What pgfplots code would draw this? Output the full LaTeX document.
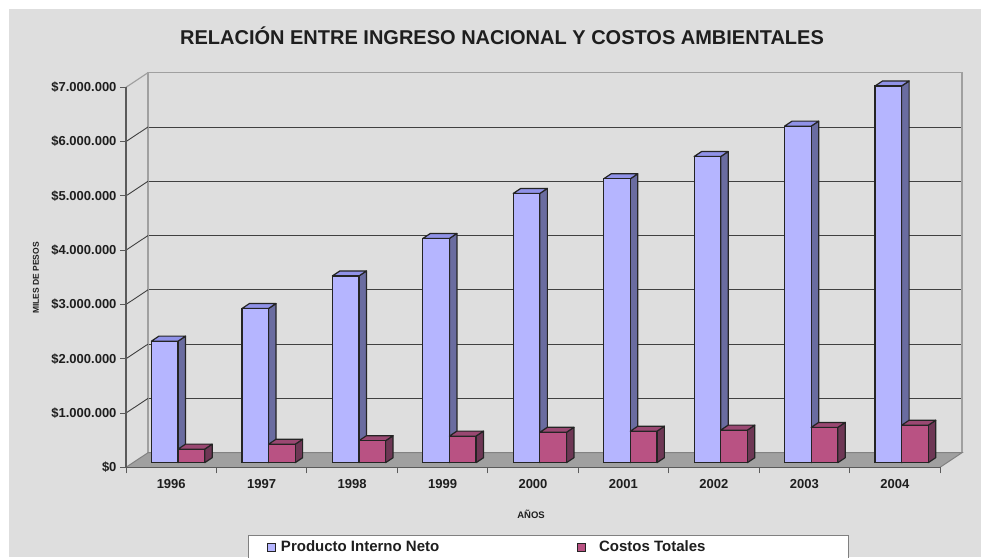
\documentclass[border=0pt]{standalone}
\usepackage{pgfplots}
\usepackage{pgfplotstable}
\pgfplotsset{compat=1.18}
\usepackage{fontspec}
\setmainfont{Liberation Sans}
\definecolor{bg}{RGB}{222,222,222}
\definecolor{floorc}{RGB}{160,160,160}
\definecolor{wallc}{RGB}{160,160,160}
\definecolor{flooredge}{RGB}{130,130,130}
\definecolor{gridc}{RGB}{64,64,64}
\definecolor{axisc}{RGB}{90,90,90}
\definecolor{txt}{RGB}{30,30,30}
\definecolor{bfront}{RGB}{181,181,255}
\definecolor{bside}{RGB}{106,108,160}
\definecolor{btop}{RGB}{144,146,232}
\definecolor{pfront}{RGB}{185,82,131}
\definecolor{pside}{RGB}{110,55,85}
\definecolor{ptop}{RGB}{154,72,114}
\definecolor{edge}{RGB}{36,36,36}
\pgfplotsset{
  common/.style={scale only axis, width=814pt, height=380pt,
    xmin=-0.5, xmax=8.5, ymin=0, ymax=7, anchor=south west, clip=false},
}
% values in millions of (miles de) pesos
\pgfplotstableread{
x pin ct
0 2.24 0.25
1 2.84 0.34
2 3.44 0.405
3 4.13 0.49
4 4.96 0.56
5 5.23 0.58
6 5.64 0.60
7 6.20 0.65
8 6.94 0.69
}\datatable
\def\dxu{0.0829}
\def\dyu{0.0921}
\def\bw{0.2941}
\begin{document}
\begin{tikzpicture}[x=1pt,y=1pt]
\fill[white] (0,0) rectangle (981,557);
\fill[bg] (9,0) rectangle (981,548);
% back wall
\begin{axis}[common, at={(148pt,104.3pt)},
  axis background/.style={fill=bg},
  axis line style={draw=wallc, line width=1.2pt},
  xtick=\empty, ytick={1,2,3,4,5,6}, yticklabels={},
  major tick length=0pt, ymajorgrids,
  major grid style={draw=gridc, line width=0.9pt}]
\end{axis}
% side wall lines
\foreach \k in {1,...,6}{
  \draw[gridc, line width=0.9pt] (126, {89.7+\k*54.2857}) -- ++(22,14.6);
}
\draw[wallc, line width=1.2pt] (126, 469.7) -- ++(22,14.6);
% floor
\fill[floorc] (126,89.7) -- (940,89.7) -- (962,104.3) -- (148,104.3) -- cycle;
\draw[flooredge, line width=1pt] (126,89.7) -- (148,104.3) -- (962,104.3) -- (940,89.7);
% front axis
\begin{axis}[common, at={(126pt,89.7pt)},
  axis x line*=bottom, axis y line*=left,
  axis line style={draw=axisc, line width=1.2pt},
  xtick={-0.5,0.5,...,8.5}, x tick label as interval,
  xticklabels={1996,1997,1998,1999,2000,2001,2002,2003,2004},
  ytick={0,1,2,3,4,5,6,7},
  yticklabels={\$0,\$1.000.000,\$2.000.000,\$3.000.000,\$4.000.000,\$5.000.000,\$6.000.000,\$7.000.000},
  tick align=outside, major tick length=6pt,
  tick style={draw=axisc, line width=1pt},
  ticklabel style={font=\bfseries\fontsize{13}{15}\selectfont, text=txt},
  xticklabel style={yshift=-3pt},
]
\end{axis}
% legend box
\fill[white] (248,22) rectangle (848,-20);
\draw[gray, line width=1pt] (248,-20) -- (248,22) -- (848,22) -- (848,-20);
% bars
\begin{axis}[common, at={(132.85pt,94.3pt)}, hide axis,
  legend style={at={(0.1648,-0.2218)}, anchor=west, draw=none, fill=none, inner sep=0pt,
     nodes={inner sep=0pt, font=\bfseries\fontsize{15}{18}\selectfont, text=txt},
     legend columns=2,
     /tikz/every odd column/.append style={column sep=5pt},
     /tikz/every even column/.append style={column sep=138pt}},
]
\pgfplotsforeachungrouped \r in {0,...,8}{
  \pgfplotstablegetelem{\r}{pin}\of{\datatable}\let\v\pgfplotsretval
  \pgfmathsetmacro\xr{\r}
  \pgfmathsetmacro\xl{\r-\bw}
  \pgfmathsetmacro\xrb{\r+\dxu}
  \pgfmathsetmacro\xlb{\r-\bw+\dxu}
  \pgfmathsetmacro\vb{\v+\dyu}
  \addplot[forget plot, fill=bside, draw=edge, line width=1.2pt, line join=round]
    coordinates {(\xr,0) (\xrb,\dyu) (\xrb,\vb) (\xr,\v)} -- cycle;
  \addplot[forget plot, fill=btop, draw=edge, line width=1.2pt, line join=round]
    coordinates {(\xl,\v) (\xlb,\vb) (\xrb,\vb) (\xr,\v)} -- cycle;
}
\addplot[ybar, bar width=26.6pt, bar shift=-13.3pt, fill=bfront, draw=edge, line width=1.2pt,
  legend image code/.code={\draw[fill=bfront, draw=edge, line width=0.8pt] (0pt,-4pt) rectangle (8pt,4pt);}]
  table[x=x, y=pin]{\datatable};
\addlegendentry{Producto Interno Neto}
\pgfplotsforeachungrouped \r in {0,...,8}{
  \pgfplotstablegetelem{\r}{ct}\of{\datatable}\let\v\pgfplotsretval
  \pgfmathsetmacro\xl{\r}
  \pgfmathsetmacro\xr{\r+\bw}
  \pgfmathsetmacro\xrb{\r+\bw+\dxu}
  \pgfmathsetmacro\xlb{\r+\dxu}
  \pgfmathsetmacro\vb{\v+\dyu}
  \addplot[forget plot, fill=pside, draw=edge, line width=1.2pt, line join=round]
    coordinates {(\xr,0) (\xrb,\dyu) (\xrb,\vb) (\xr,\v)} -- cycle;
  \addplot[forget plot, fill=ptop, draw=edge, line width=1.2pt, line join=round]
    coordinates {(\xl,\v) (\xlb,\vb) (\xrb,\vb) (\xr,\v)} -- cycle;
}
\addplot[ybar, bar width=26.6pt, bar shift=13.3pt, fill=pfront, draw=edge, line width=1.2pt,
  legend image code/.code={\draw[fill=pfront, draw=edge, line width=0.8pt] (0pt,-4pt) rectangle (8pt,4pt);}]
  table[x=x, y=ct]{\datatable};
\addlegendentry{\hspace*{8pt}Costos Totales}
\end{axis}
% texts
\node[font=\bfseries\fontsize{20}{24}\selectfont, text=txt] at (502,521) {RELACIÓN ENTRE INGRESO NACIONAL Y COSTOS AMBIENTALES};
\node[font=\bfseries\fontsize{8.5}{10}\selectfont, text=txt, rotate=90] at (36,279) {MILES DE PESOS};
\node[font=\bfseries\fontsize{9.5}{11}\selectfont, text=txt] at (531,43) {AÑOS};
\pgfresetboundingbox
\useasboundingbox (0,0) rectangle (981,557);
\end{tikzpicture}
\end{document}
